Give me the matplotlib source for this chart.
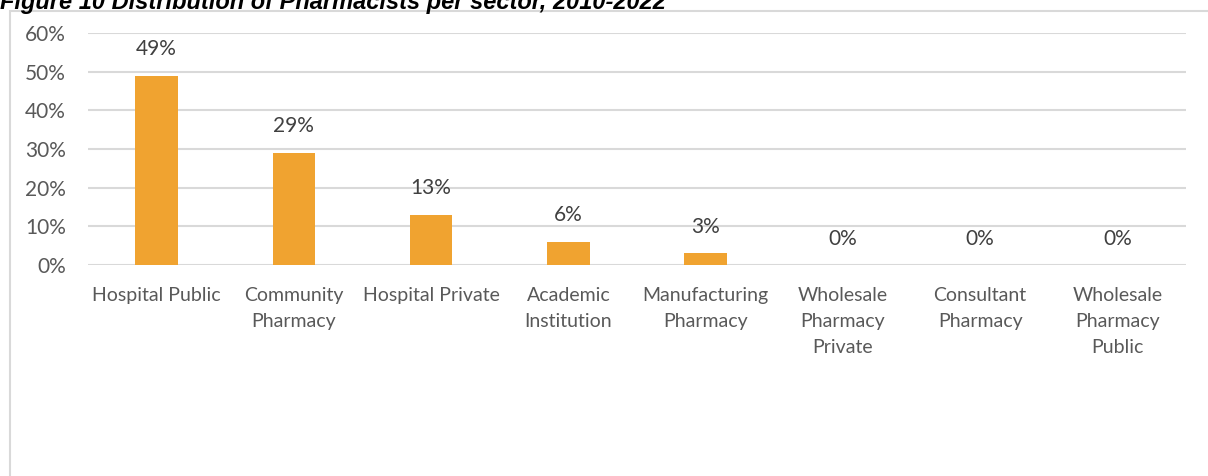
import numpy as np
import matplotlib
matplotlib.use("Agg")
import matplotlib.pyplot as plt
from matplotlib.patches import Rectangle
from matplotlib.ticker import PercentFormatter

sectors = ["Hospital Public", "Community\nPharmacy", "Hospital Private", "Academic\nInstitution",
           "Manufacturing\nPharmacy", "Wholesale\nPharmacy\nPrivate", "Consultant\nPharmacy",
           "Wholesale\nPharmacy\nPublic"]
shares = [49, 29, 13, 6, 3, 0, 0, 0]
yticks = [0, 10, 20, 30, 40, 50, 60]

plt.rcParams['font.family'] = ['Lato', 'DejaVu Sans']
grey = "#595959"

fig = plt.figure(figsize=(12.08, 4.76), dpi=100)
ax = fig.add_axes([88/1208, 1 - 265/476, 1098/1208, 232/476])

x = np.arange(len(sectors))
ax.bar(x, shares, width=0.31, color="#F0A330", zorder=3)
for xi, v in zip(x, shares):
    ax.annotate(f"{v}%", (xi, v), xytext=(0, 19), textcoords="offset points",
                ha="center", va="center", fontsize=15, color="#404040")

ax.set_xlim(-0.5, len(sectors) - 0.5)
ax.set_ylim(0, 60)
ax.set_yticks(yticks)
ax.yaxis.set_major_formatter(PercentFormatter(decimals=0))
ax.set_xticks(x)
ax.set_xticklabels(sectors, linespacing=1.62)
ax.tick_params(axis="both", length=0, labelcolor=grey)
ax.tick_params(axis="x", pad=16, labelsize=14)
ax.tick_params(axis="y", pad=16, labelsize=15)
ax.grid(axis="y", color="#d9d9d9", linewidth=1.5, zorder=0)
for s in ax.spines.values():
    s.set_visible(False)

# outer chart frame (only left and top visible in the crop)
fig.add_artist(Rectangle((10/1208, -0.2), 1.2, 1.2 - 11/476, transform=fig.transFigure,
                         fill=False, edgecolor="#d9d9d9", linewidth=1.5))

fig.text(0.0, 1 - 9/476, "Figure 10 Distribution of Pharmacists per sector, 2010-2022",
         family="Liberation Sans", weight="bold", style="italic", fontsize=17, va="baseline")

fig.savefig("out.png", dpi=100)
